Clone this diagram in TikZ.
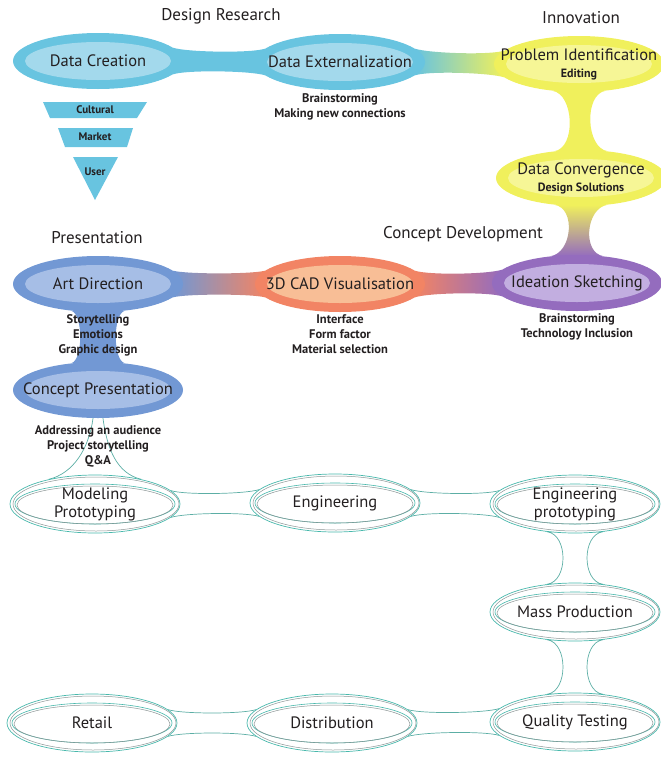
\documentclass[tikz,border=0pt]{standalone}
\usepackage{fontspec}
\setmainfont{PT Sans}
\usetikzlibrary{shapes.geometric,positioning,calc,backgrounds}

\definecolor{skyout}{RGB}{104,196,224}
\definecolor{skyin}{RGB}{163,217,236}
\definecolor{lemonout}{RGB}{240,240,92}
\definecolor{lemonin}{RGB}{246,246,150}
\definecolor{steelout}{RGB}{114,152,212}
\definecolor{steelin}{RGB}{166,190,230}
\definecolor{peachout}{RGB}{242,132,100}
\definecolor{peachin}{RGB}{248,190,150}
\definecolor{lilacout}{RGB}{148,108,190}
\definecolor{lilacin}{RGB}{194,174,224}
\definecolor{tealline}{RGB}{72,184,172}
\definecolor{greyline}{RGB}{140,150,150}
\definecolor{ink}{RGB}{35,31,32}

% text that does not widen its ellipse
\newcommand{\tx}[1]{\makebox[0pt]{#1}}
\newcommand{\sub}[1]{\makebox[0pt]{\fontsize{12}{13}\selectfont\bfseries #1}}
% neck between two blobs, side by side / one above the other
\newcommand{\hneck}[5]{%
  \path[#5] (#1.10) .. controls +(#3,#4) and +(-#3,#4) .. (#2.170)
    -- (#2.190) .. controls +(-#3,-#4) and +(#3,-#4) .. (#1.350) -- cycle;}
\newcommand{\vneck}[5]{%
  \path[#5] (#1.-45) .. controls +(-#3,#4) and +(-#3,-#4) .. (#2.45)
    -- (#2.135) .. controls +(#3,-#4) and +(#3,#4) .. (#1.-135) -- cycle;}

\begin{document}
\begin{tikzpicture}[
    x=1pt, y=-1pt,
    every node/.style={text=ink},
    blob/.style 2 args={ellipse, fill=#1, minimum width=170pt, minimum height=56pt,
                 inner sep=1pt, align=center, font=\fontsize{16.5}{17}\selectfont,
                 path picture={\fill[#2] (path picture bounding box.center)
                   ellipse [x radius=73pt, y radius=19pt];}},
    ring/.style={ellipse, draw=tealline, line width=.7pt, fill=white,
                 minimum width=170pt, minimum height=58pt, inner sep=1pt,
                 align=center, font=\fontsize{16.5}{18}\selectfont,
                 path picture={
                   \draw[greyline, line width=.5pt] ([xshift=1pt]path picture bounding box.center)
                     ellipse [x radius=83pt, y radius=27pt];
                   \draw[tealline, line width=.6pt] (path picture bounding box.center)
                     ellipse [x radius=80pt, y radius=20pt];
                   \draw[greyline, line width=.5pt] ([yshift=-1pt]path picture bounding box.center)
                     ellipse [x radius=78pt, y radius=19pt];}},
    ringline/.style={draw=tealline!70!greyline, line width=.7pt},
    head/.style={font=\fontsize{17}{18}\selectfont},
    notes/.style={align=center, inner sep=1pt, font=\fontsize{12.5}{15}\selectfont\bfseries},
    small/.style={font=\fontsize{11}{12}\selectfont\bfseries}
]
\useasboundingbox (0,0) rectangle (661,761);

% Headings
\node[head] (research) at (221,16) {Design Research};
\node[head] (innov) at (581,18) {Innovation};
\node[head] (present) at (97,238) {Presentation};
\node[head] (develop) at (463,234) {Concept Development};

% Coloured blobs
\node[blob={skyout}{skyin}] (crea) at (98,61) {\tx{Data Creation}};
\node[blob={skyout}{skyin}] (ext) at (340,62) {\tx{Data Externalization}};
\node[blob={lemonout}{lemonin}] (prob) at (579,64) {\tx{Problem Identification}\\\sub{Editing}};
\node[blob={lemonout}{lemonin}] (conv) at (581,178) {\tx{Data Convergence}\\\sub{Design Solutions}};
\node[blob={steelout}{steelin}] (art) at (98,284) {\tx{Art Direction}};
\node[blob={peachout}{peachin}] (cad) at (340,284) {\tx{3D CAD Visualisation}};
\node[blob={lilacout}{lilacin}] (idea) at (577,283) {\tx{Ideation Sketching}};
\node[blob={steelout}{steelin}] (pres) at (98,390) {\tx{Concept Presentation}};

% Outline blobs
\node[ring] (model) at (95,504) {\tx{Modeling}\\\tx{Prototyping}};
\node[ring] (eng) at (335,503) {\tx{Engineering}};
\node[ring] (engp) at (575,504) {\tx{Engineering}\\\tx{prototyping}};
\node[ring] (mass) at (575,612) {\tx{Mass Production}};
\node[ring] (qual) at (575,722) {\tx{Quality Testing}};
\node[ring] (dist) at (332,723) {\tx{Distribution}};
\node[ring] (ret) at (92,723) {\tx{Retail}};

% Notes
\node[notes, below=2pt of ext] (extN) {Brainstorming\\Making new connections};
\node[notes, below=1pt of art] (artN) {Storytelling\\Emotions\\Graphic design};
\node[notes, below=1pt of cad] (cadN) {Interface\\Form factor\\Material selection};
\node[notes, below=1pt of idea] (ideaN) {Brainstorming\\Technology Inclusion};
\node[notes, below=6pt of pres] (presN) {Addressing an audience\\Project storytelling\\Q\&A};

% Funnel
\fill[skyout] (43,102) -- (147,102) -- (137,118) -- (50,118) -- cycle;
\fill[skyout] (58,128) -- (133,128) -- (127,147) -- (65,147) -- cycle;
\fill[skyout] (73,157) -- (118,157) -- (95,200) -- cycle;
\node[small] (cult) at (95,110) {Cultural};
\node[small] (mark) at (95,137) {Market};
\node[small] (user) at (95,172) {User};

% Necks
\begin{scope}[on background layer]
\hneck{crea}{ext}{14}{4.5}{fill=skyout}
\hneck{ext}{prob}{14}{4.5}{left color=skyout, right color=lemonout}
\vneck{prob}{conv}{22}{3}{fill=lemonout}
\vneck{conv}{idea}{22}{3}{top color=lemonout, bottom color=lilacout}
\hneck{art}{cad}{14}{3.5}{left color=steelout, right color=peachout}
\hneck{cad}{idea}{14}{4.5}{left color=peachout, right color=lilacout}
\vneck{art}{pres}{12}{3}{fill=steelout}
\hneck{model}{eng}{14}{4.5}{ringline}
\hneck{eng}{engp}{14}{4.5}{ringline}
\vneck{engp}{mass}{21}{3}{ringline}
\vneck{mass}{qual}{21}{3}{ringline}
\hneck{dist}{qual}{14}{4.5}{ringline}
\hneck{ret}{dist}{14}{4.5}{ringline}
\draw[ringline] (pres.-100) .. controls +(-4,30) and +(25,-6) .. (model.152);
\draw[ringline] (pres.-80) .. controls +(4,30) and +(-25,-6) .. (model.28);
\end{scope}

\end{tikzpicture}
\end{document}
